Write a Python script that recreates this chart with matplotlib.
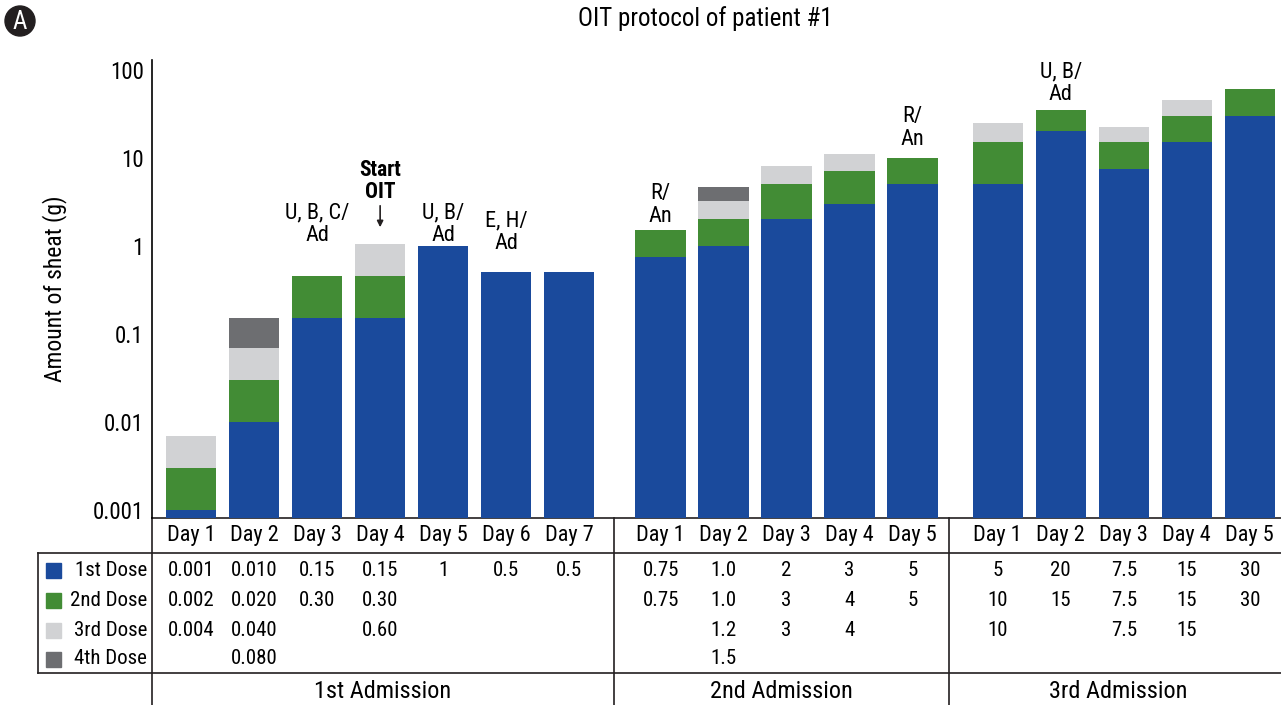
import numpy as np
import matplotlib.pyplot as plt
from matplotlib import transforms
from matplotlib.patches import Circle, Rectangle
from matplotlib import font_manager

names = {f.name for f in font_manager.fontManager.ttflist}
fams = [f for f in ['Roboto Condensed', 'Open Sans Condensed', 'Roboto'] if f in names]
plt.rcParams['font.family'] = fams + ['DejaVu Sans']

# --- data -------------------------------------------------------------
admissions = ['1st Admission', '2nd Admission', '3rd Admission']
days = [['Day 1', 'Day 2', 'Day 3', 'Day 4', 'Day 5', 'Day 6', 'Day 7'],
        ['Day 1', 'Day 2', 'Day 3', 'Day 4', 'Day 5'],
        ['Day 1', 'Day 2', 'Day 3', 'Day 4', 'Day 5']]

dose_labels = ['1st Dose', '2nd Dose', '3rd Dose', '4th Dose']
dose_1st = ['0.001', '0.010', '0.15', '0.15', '1', '0.5', '0.5',
            '0.75', '1.0', '2', '3', '5',
            '5', '20', '7.5', '15', '30']
dose_2nd = ['0.002', '0.020', '0.30', '0.30', '', '', '',
            '0.75', '1.0', '3', '4', '5',
            '10', '15', '7.5', '15', '30']
dose_3rd = ['0.004', '0.040', '', '0.60', '', '', '',
            '', '1.2', '3', '4', '',
            '10', '', '7.5', '15', '']
dose_4th = ['', '0.080', '', '', '', '', '',
            '', '1.5', '', '', '',
            '', '', '', '', '']

# reactions noted above bars (column index -> text)
events = {2: 'U, B, C/\nAd', 4: 'U, B/\nAd', 5: 'E, H/\nAd',
          7: 'R/\nAn', 11: 'R/\nAn', 13: 'U, B/\nAd'}
start_oit_idx = 3

colors = ['#1a4a9c', '#428c35', '#d1d2d4', '#6d6e71']

# --- layout -----------------------------------------------------------
W, H = 1281, 705
fig = plt.figure(figsize=(W / 100, H / 100), dpi=100)

offsets = [0.0, 7.45, 12.8]
xpos = []
for off, d in zip(offsets, days):
    xpos += [off + i for i in range(len(d))]
xpos = np.array(xpos)

ax = fig.add_axes([152 / W, (H - 518) / H, (1275 - 152) / W, (518 - 60) / H])
ax.set_facecolor('none')
ymin, ymax = 10 ** -3.09, 10 ** 2.11
ax.set_yscale('log')
ax.set_ylim(ymin, ymax)
ax.set_xlim(-0.62, 17.2)

rows = [dose_1st, dose_2nd, dose_3rd, dose_4th]
vals = np.array([[float(s) if s else 0.0 for s in r] for r in rows])
cum = np.cumsum(vals, axis=0)
bottom = np.full(len(xpos), ymin)
for k in range(4):
    top = np.where(vals[k] > 0, cum[k], bottom)
    ax.bar(xpos, top - bottom, bottom=bottom, width=0.8, color=colors[k],
           linewidth=0)
    bottom = top

ax.set_yticks([0.001, 0.01, 0.1, 1, 10, 100])
ax.set_yticklabels(['0.001', '0.01', '0.1', '1', '10', '100'], fontsize=16.5)
ax.minorticks_off()
ax.tick_params(axis='y', length=0, pad=6)
ax.set_xticks([])
for s in ['top', 'right', 'bottom']:
    ax.spines[s].set_visible(False)
ax.spines['left'].set_linewidth(1.2)
ax.set_ylabel('Amount of sheat (g)', fontsize=17, labelpad=18)

# background axes in pixel coordinates for the table and notes
bg = fig.add_axes([0, 0, 1, 1], zorder=-1)
bg.set_xlim(0, W)
bg.set_ylim(H, 0)
bg.axis('off')
tr = transforms.blended_transform_factory(ax.transData, bg.transData)

lc = '#231f20'
bg.plot([152, W], [518, 518], color=lc, lw=1.2)
bg.plot([38, W], [553, 553], color=lc, lw=1.2)
bg.plot([38, W], [673, 673], color=lc, lw=1.2)
bg.plot([38, 38], [553, 673], color=lc, lw=1.2)
for xv in [152, 614, 949]:
    bg.plot([xv, xv], [518, 705], color=lc, lw=1.2)

labels = [d for grp in days for d in grp]
for x, lab in zip(xpos, labels):
    bg.text(x, 535, lab, transform=tr, ha='center', va='center', fontsize=16)

row_y = [570, 600, 630, 659]
for k, r in enumerate(rows):
    for x, s in zip(xpos, r):
        if s:
            bg.text(x, row_y[k], s, transform=tr, ha='center', va='center',
                    fontsize=15)
    bg.add_patch(Rectangle((46, row_y[k] - 7.5), 15, 15, color=colors[k]))
    bg.text(147, row_y[k], dose_labels[k], ha='right', va='center',
            fontsize=15)

adm_centers = [(152 + 614) / 2, (614 + 949) / 2, (949 + W) / 2 + 3]
for xc, lab in zip(adm_centers, admissions):
    bg.text(xc, 691, lab, ha='center', va='center', fontsize=17.5)

# annotations above bars (block centres in pixel rows)
event_y = {2: 224, 4: 224, 5: 232, 7: 205, 11: 128, 13: 83}
for i, txt in events.items():
    bg.text(xpos[i], event_y[i], txt, transform=tr, ha='center', va='center',
            fontsize=16, linespacing=1.1)
i = start_oit_idx
bg.annotate('', xy=(xpos[i], 230), xytext=(xpos[i], 203), xycoords=tr,
            textcoords=tr,
            arrowprops=dict(arrowstyle='-|>', color=lc, lw=1.2,
                            mutation_scale=9))
bg.text(xpos[i], 181, 'Start\nOIT', transform=tr, ha='center', va='center',
        fontsize=15.5, fontweight='bold', linespacing=1.05)

# title and panel letter
bg.text(705, 19, 'OIT protocol of patient #1', ha='center', va='center',
        fontsize=18)
bg.add_patch(Circle((20, 21), 15, color='#231f20'))
bg.text(20, 22, 'A', ha='center', va='center', color='white', fontsize=18)

fig.savefig('out.png', dpi=100)
